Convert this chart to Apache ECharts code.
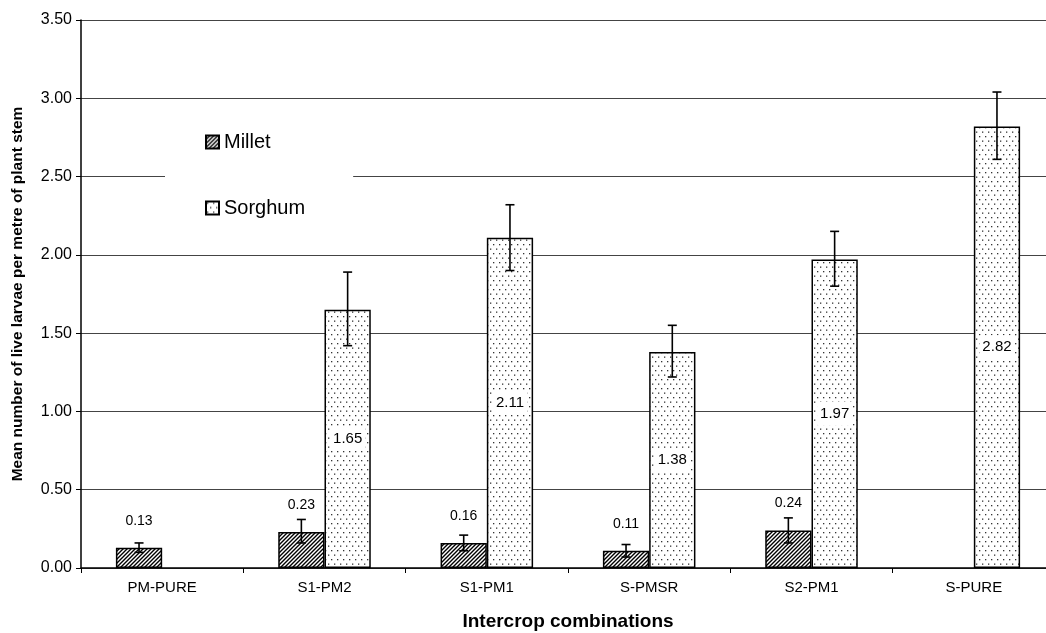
<!DOCTYPE html>
<html>
<head>
<meta charset="utf-8">
<script src="https://cdn.jsdelivr.net/npm/echarts@6/dist/echarts.min.js"></script>
<style>
  html, body { margin: 0; padding: 0; background: #fff; }
  #chart { width: 1046px; height: 633px; }
</style>
</head>
<body>
<div id="chart"></div>
<script>
// data
var categories = ["PM-PURE", "S1-PM2", "S1-PM1", "S-PMSR", "S2-PM1", "S-PURE"];
var millet = [0.13, 0.23, 0.16, 0.11, 0.24, null];
var milletLow = [0.10, 0.16, 0.11, 0.07, 0.16, null];
var milletHigh = [0.16, 0.31, 0.21, 0.15, 0.32, null];
var sorghum = [null, 1.65, 2.11, 1.38, 1.97, 2.82];
var sorghumLow = [null, 1.42, 1.90, 1.22, 1.80, 2.61];
var sorghumHigh = [null, 1.89, 2.32, 1.55, 2.15, 3.04];
var yTicks = [0, 0.5, 1, 1.5, 2, 2.5, 3, 3.5];

// fill patterns
function hatchPattern() {
  var c = document.createElement("canvas");
  c.width = 4; c.height = 4;
  var g = c.getContext("2d");
  g.fillStyle = "#fff";
  g.fillRect(0, 0, 4, 4);
  g.strokeStyle = "#000";
  g.lineWidth = 1.4;
  g.beginPath();
  g.moveTo(-1, 5); g.lineTo(5, -1);
  g.moveTo(-1, 1); g.lineTo(1, -1);
  g.moveTo(3, 5); g.lineTo(5, 3);
  g.stroke();
  return c;
}
function dotPattern() {
  var c = document.createElement("canvas");
  c.width = 6; c.height = 9;
  var g = c.getContext("2d");
  g.fillStyle = "#fff";
  g.fillRect(0, 0, 6, 9);
  g.fillStyle = "#333";
  g.fillRect(1, 1, 1.3, 1.3);
  g.fillRect(4, 5.5, 1.3, 1.3);
  return c;
}

var BAR_GAP = 0.43;

function errorBars(low, high, side) {
  var data = [];
  for (var i = 0; i < categories.length; i++) {
    if (low[i] != null) data.push([i, low[i], high[i]]);
  }
  return {
    type: "custom",
    z: 5,
    silent: true,
    data: data,
    encode: { x: 0, y: [1, 2] },
    renderItem: function (params, api) {
      var lo = api.coord([api.value(0), api.value(1)]);
      var hi = api.coord([api.value(0), api.value(2)]);
      var bw = api.size([1, 0])[0] * (1 - BAR_GAP) / 2;
      var x = lo[0] + side * bw / 2;
      var cap = 4.5;
      var st = { stroke: "#000", lineWidth: 1.6 };
      return {
        type: "group",
        children: [
          { type: "line", shape: { x1: x, y1: lo[1], x2: x, y2: hi[1] }, style: st },
          { type: "line", shape: { x1: x - cap, y1: hi[1], x2: x + cap, y2: hi[1] }, style: st },
          { type: "line", shape: { x1: x - cap, y1: lo[1], x2: x + cap, y2: lo[1] }, style: st }
        ]
      };
    }
  };
}

var chart = echarts.init(document.getElementById("chart"));
chart.setOption({
  animation: false,
  backgroundColor: "#fff",
  textStyle: { fontFamily: "Liberation Sans, Arial, sans-serif", color: "#000" },
  grid: { left: 81, top: 20, width: 974, height: 548, outerBoundsMode: "none", containLabel: false },
  legend: {
    orient: "vertical",
    left: 165,
    top: 126,
    padding: [6, 48, 8, 40],
    backgroundColor: "#fff",
    itemWidth: 13,
    itemHeight: 13,
    itemGap: 46,
    data: [{ name: "Millet", icon: "rect" }, { name: "Sorghum", icon: "rect" }],
    textStyle: { fontSize: 20, color: "#000", padding: [0, 0, 0, 0] }
  },
  xAxis: {
    type: "category",
    data: categories,
    name: "Intercrop combinations",
    nameLocation: "middle",
    nameGap: 44,
    nameTextStyle: { fontSize: 19, fontWeight: "bold", color: "#000" },
    axisLine: { lineStyle: { color: "#000", width: 1.5 } },
    axisTick: { show: true, length: 5, lineStyle: { color: "#000" } },
    axisLabel: { fontSize: 15, color: "#000", margin: 12 },
    splitLine: { show: false }
  },
  yAxis: {
    type: "value",
    min: yTicks[0],
    max: yTicks[yTicks.length - 1],
    interval: 0.5,
    name: "Mean number of live larvae per metre of plant stem",
    nameLocation: "middle",
    nameGap: 55,
    nameTextStyle: { fontSize: 15.5, fontWeight: "bold", color: "#000" },
    axisLine: { show: true, lineStyle: { color: "#000", width: 1.5 } },
    axisTick: { show: true, length: 5, lineStyle: { color: "#000" } },
    axisLabel: {
      fontSize: 16, color: "#000", margin: 9,
      formatter: function (v) { return v.toFixed(2); }
    },
    splitLine: { show: true, lineStyle: { color: "#444", width: 1 } }
  },
  series: [
    {
      name: "Millet",
      type: "bar",
      data: millet,
      barGap: "0%",
      barCategoryGap: "43%",
      itemStyle: {
        color: { image: hatchPattern(), repeat: "repeat" },
        borderColor: "#000",
        borderWidth: 1.5
      },
      label: {
        show: true,
        position: "top",
        distance: 20,
        fontSize: 14,
        color: "#000",
        formatter: function (p) { return p.value.toFixed(2); }
      }
    },
    {
      name: "Sorghum",
      type: "bar",
      data: sorghum,
      itemStyle: {
        color: { image: dotPattern(), repeat: "repeat" },
        borderColor: "#000",
        borderWidth: 1.5
      },
      label: {
        show: true,
        position: "inside",
        fontSize: 15,
        color: "#000",
        backgroundColor: "#fff",
        padding: [5, 3, 4, 3],
        formatter: function (p) { return p.value.toFixed(2); }
      }
    },
    errorBars(milletLow, milletHigh, -1),
    errorBars(sorghumLow, sorghumHigh, 1)
  ]
});
</script>
</body>
</html>
